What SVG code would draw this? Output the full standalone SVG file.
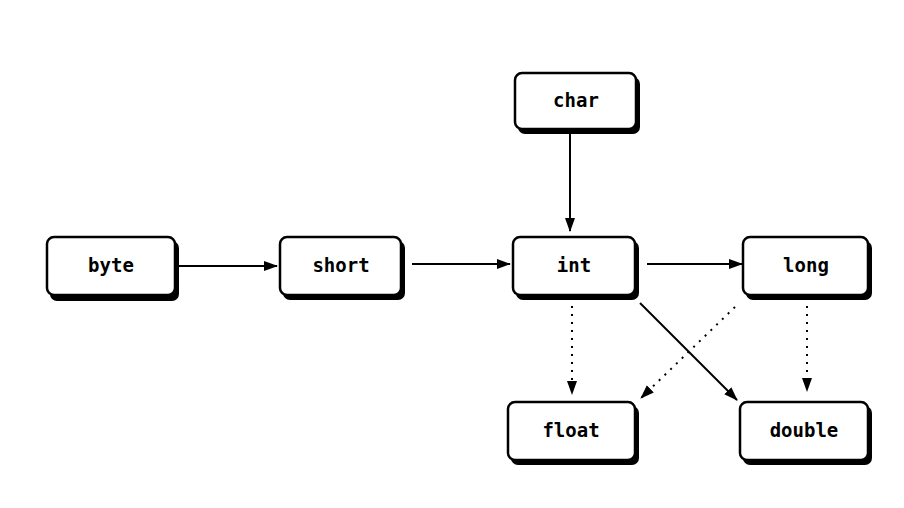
<svg xmlns="http://www.w3.org/2000/svg" width="904" height="508" viewBox="0 0 904 508">
<style>
.sh{fill:#000}
.bx{fill:#fff;stroke:#000;stroke-width:2.5}
.t{font-family:"DejaVu Sans Mono","Liberation Mono",monospace;font-weight:bold;font-size:19px;text-anchor:middle;fill:#000}
.s{stroke:#000;stroke-width:2;fill:none}
.d{stroke:#000;stroke-width:2;fill:none;stroke-dasharray:2 6}
</style>
<defs>
<marker id="a" markerWidth="14" markerHeight="12" refX="13" refY="6" orient="auto" markerUnits="userSpaceOnUse">
<path d="M0,1 L14,6 L0,11 Z" fill="#000"/>
</marker>
</defs>
<rect width="904" height="508" fill="#fff"/>
<g id="connectors">
<line class="s" x1="178" y1="266" x2="277" y2="266" marker-end="url(#a)"/>
<line class="s" x1="412" y1="264" x2="510" y2="264" marker-end="url(#a)"/>
<line class="s" x1="647" y1="264" x2="742" y2="264" marker-end="url(#a)"/>
<line class="s" x1="570" y1="134" x2="570" y2="231" marker-end="url(#a)"/>
<line class="d" x1="572" y1="306" x2="572" y2="394" marker-end="url(#a)"/>
<line class="d" x1="735" y1="307" x2="641" y2="398" marker-end="url(#a)"/>
<line class="s" x1="640" y1="303" x2="737" y2="400" marker-end="url(#a)"/>
<line class="d" x1="807" y1="306" x2="807" y2="391" marker-end="url(#a)"/>
</g>
<g id="char"><rect class="sh" x="518" y="77" width="122" height="57" rx="7"/><rect class="bx" x="515" y="73" width="121" height="56" rx="7"/><text class="t" x="576" y="107">char</text></g>
<g id="byte"><rect class="sh" x="50" y="241" width="129" height="60" rx="7"/><rect class="bx" x="47" y="237" width="128" height="58" rx="7"/><text class="t" x="111" y="272">byte</text></g>
<g id="short"><rect class="sh" x="283" y="241" width="122" height="59" rx="7"/><rect class="bx" x="280" y="237" width="121" height="58" rx="7"/><text class="t" x="341" y="272">short</text></g>
<g id="int"><rect class="sh" x="516" y="241" width="123" height="59" rx="7"/><rect class="bx" x="513" y="237" width="122" height="58" rx="7"/><text class="t" x="574" y="272">int</text></g>
<g id="long"><rect class="sh" x="746" y="241" width="126" height="59" rx="7"/><rect class="bx" x="743" y="237" width="125" height="58" rx="7"/><text class="t" x="806" y="272">long</text></g>
<g id="float"><rect class="sh" x="511" y="406" width="128" height="59" rx="7"/><rect class="bx" x="508" y="402" width="127" height="58" rx="7"/><text class="t" x="571" y="437">float</text></g>
<g id="double"><rect class="sh" x="743" y="406" width="129" height="59" rx="7"/><rect class="bx" x="740" y="402" width="128" height="58" rx="7"/><text class="t" x="804" y="437">double</text></g>
</svg>
